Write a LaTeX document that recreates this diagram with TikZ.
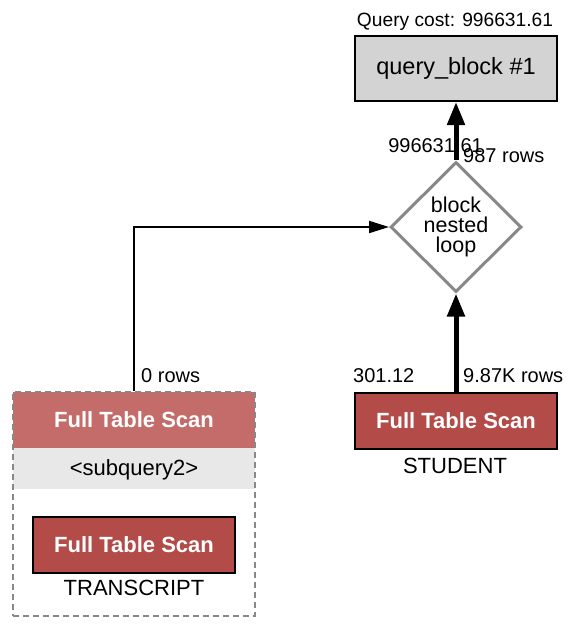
\documentclass[tikz,border=0pt]{standalone}
\usepackage{fontspec}
\setmainfont{Liberation Sans}
\usetikzlibrary{shapes.geometric,arrows.meta}
\definecolor{scanred}{HTML}{B34B48}
\definecolor{scanlight}{HTML}{C46C6A}
\definecolor{bandgray}{HTML}{E8E8E8}
\definecolor{qbgray}{HTML}{D3D3D3}
\definecolor{linegray}{HTML}{888888}
\newcommand{\lblfont}{\fontsize{20}{24}\selectfont}
\newcommand{\bigfont}{\fontsize{22}{26}\selectfont}
\begin{document}
\begin{tikzpicture}[x=1pt,y=-1pt,
  scanbox/.style={draw=black,line width=2pt,fill=scanred,minimum width=202pt,minimum height=56pt,inner sep=0pt,
    text=white,font=\fontsize{22}{26}\selectfont\bfseries},
  qbbox/.style={draw=black,line width=2pt,fill=qbgray,minimum width=202pt,minimum height=65pt,inner sep=0pt,
    font=\fontsize{23.5}{28}\selectfont},
  joinbox/.style={diamond,draw=linegray,line width=3pt,fill=white,minimum width=131pt,minimum height=130pt,inner sep=0pt,
    align=center,font=\fontsize{21.5}{20}\selectfont},
  bandbox/.style={minimum width=242pt,inner sep=0pt,draw=none},
  dashbox/.style={draw=linegray,line width=2pt,dash pattern=on 6pt off 4pt,minimum width=242pt,minimum height=224pt,inner sep=0pt},
  fatarrow/.style={line width=5pt,-{Triangle[length=23pt,width=17pt]}},
  thinarrow/.style={line width=2pt,-{Triangle[length=20pt,width=12pt]}},
  txt/.style={inner sep=0pt,font=\lblfont}
]
\useasboundingbox (0,0) rectangle (578,630);

% top block
\node[qbbox] (qb) at (456,68.5) {query\_block \#1};
\node[txt,anchor=base,font=\fontsize{19.2}{23}\selectfont] (cost) at (455,26) {Query cost: 996631.61};

% join diamond
\node[joinbox] (nl) at (456,227) {block\\nested\\loop};

% student scan
\node[scanbox] (st) at (456,421) {Full Table Scan};
\node[txt,anchor=base,font=\bigfont] (stname) at (455,473) {STUDENT};

% subquery group
\node[bandbox,fill=scanlight,minimum height=56pt,text=white,font=\fontsize{22}{26}\selectfont\bfseries] (band1) at (134,420) {Full Table Scan};
\node[bandbox,fill=bandgray,minimum height=41pt] (band2) at (134,468.5) {};
\node[txt,anchor=base,font=\bigfont] (subq) at (134,475) {<subquery2>};
\node[dashbox] (sub) at (134,504) {};
\node[scanbox] (tr) at (134,545) {Full Table Scan};
\node[txt,anchor=base,font=\bigfont] (trname) at (134,595) {TRANSCRIPT};

% connectors
\draw[fatarrow] (nl) -- (qb);
\draw[fatarrow] (st) -- (nl);
\draw[thinarrow] (sub.north) |- (nl.west);

% edge labels
\node[txt,anchor=base east] (l1) at (483,152) {996631.61};
\node[txt,anchor=base west] (l2) at (463,162) {987 rows};
\node[txt,anchor=base west] (l3) at (141,382) {0 rows};
\node[txt,anchor=base west] (l4) at (353,382) {301.12};
\node[txt,anchor=base west] (l5) at (463,382) {9.87K rows};
\end{tikzpicture}
\end{document}
